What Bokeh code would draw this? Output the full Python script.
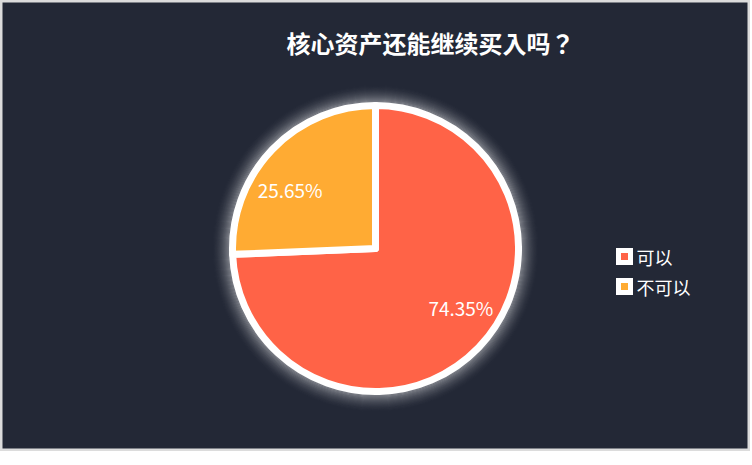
import numpy as np
from bokeh.plotting import figure
from bokeh.models import Range1d
from bokeh.core.properties import value
from bokeh.embed import file_html
from bokeh.resources import INLINE

title = "核心资产还能继续买入吗？"
categories = ["可以", "不可以"]
shares = [74.35, 25.65]
colors = ["#ff6347", "#ffab33"]

BG = "#232836"
FONT = "Noto Sans CJK SC"

# figure units == screen pixels (x right, y = 465 - screen y)
p = figure(width=750, height=451, x_range=Range1d(0, 750), y_range=Range1d(14, 465),
           output_backend="svg", toolbar_location=None, min_border=0)
p.axis.visible = False
p.grid.visible = False
p.outline_line_color = "#dcdcdc"
p.outline_line_width = 4
p.background_fill_color = BG
p.border_fill_color = BG

cx, cy, r = 375, 465 - 248, 143

# white glow round the pie
for k in range(22, 0, -1):
    t = k / 22
    p.annulus(x=cx, y=cy, inner_radius=r + 2 + k - 1, outer_radius=r + 2 + k,
              fill_color="white", fill_alpha=0.55 * (1 - t) ** 2.2, line_color=None)

# slices, clockwise from the top
frac = np.array(shares) / sum(shares)
ends = np.pi / 2 - 2 * np.pi * np.cumsum(frac)
starts = np.concatenate([[np.pi / 2], ends[:-1]])
p.wedge(x=cx, y=cy, radius=r, start_angle=starts, end_angle=ends, direction="clock",
        fill_color=colors, line_color="white", line_width=7, line_join="round")

# percentage labels inside
mid = (starts + ends) / 2 + np.deg2rad(9)
p.text(x=cx + 104 * np.cos(mid), y=cy + 104 * np.sin(mid),
       text=[f"{s:.2f}%" for s in shares], text_color="white",
       text_font=value(FONT), text_font_size="19px",
       text_align="center", text_baseline="middle")

# title
p.text(x=[430], y=[465 - 42], text=[title], text_color="white",
       text_font=value("Noto Sans CJK TC"), text_font_size="24px", text_font_style="bold",
       text_align="center", text_baseline="middle")

# legend
ly = [465 - 256 - 30 * i for i in range(len(categories))]
lx = [624] * len(categories)
p.scatter(x=lx, y=ly, marker="square", size=17, fill_color="white", line_color=None)
p.scatter(x=lx, y=ly, marker="square", size=7, fill_color=colors, line_color=None)
p.text(x=[636] * len(categories), y=ly, text=categories, text_color="white",
       text_font=value(FONT), text_font_size="18px",
       text_align="left", text_baseline="middle")

open("out.html", "w").write(file_html(p, INLINE))
